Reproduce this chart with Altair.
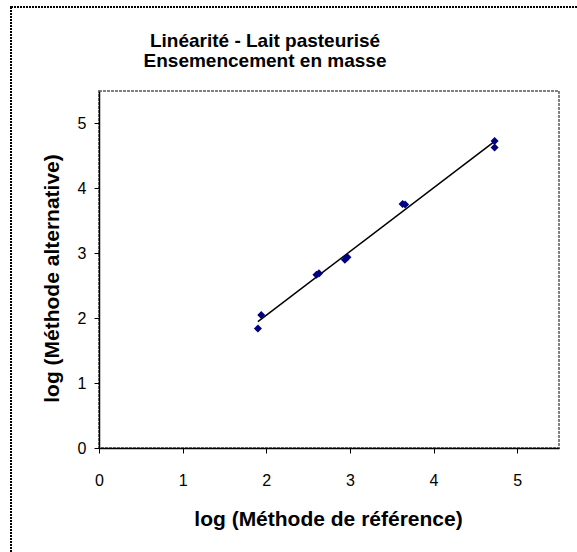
import altair as alt
import pandas as pd

title_lines = ["Linéarité - Lait pasteurisé", "Ensemencement en masse"]
ref_log = [1.90, 1.94, 2.60, 2.63, 2.94, 2.97, 3.63, 3.66, 4.73, 4.73]
alt_log = [1.84, 2.05, 2.67, 2.69, 2.90, 2.94, 3.76, 3.75, 4.73, 4.63]
x_ticks = [0, 1, 2, 3, 4, 5]
y_ticks = [0, 1, 2, 3, 4, 5]

df = pd.DataFrame({"ref": ref_log, "alt": alt_log})

FONT = "Liberation Sans"

xscale = alt.Scale(domain=[0, 5.5], nice=False, zero=False)
yscale = alt.Scale(domain=[0, 5.5], nice=False, zero=False)

xaxis = alt.Axis(
    title="log (Méthode de référence)", values=x_ticks, format="d", grid=False,
    tickSize=5, tickColor="black", labelPadding=19, labelFontSize=16,
    labelFont=FONT, labelColor="black", domainColor="black", domainWidth=1.5,
    titleFont=FONT, titleFontSize=21, titleFontWeight="bold", titleColor="black",
    titleX=229, titleY=77, titleBaseline="alphabetic", titleAlign="center",
    labelFlush=False,
)
yaxis = alt.Axis(
    title="log (Méthode alternative)", values=y_ticks, format="d", grid=False,
    tickSize=5, tickColor="black", labelPadding=8, labelFontSize=16,
    labelFont=FONT, labelColor="black", domainColor="black", domainWidth=1.5,
    titleFont=FONT, titleFontSize=21, titleFontWeight="bold", titleColor="black",
    titleX=-41, titleY=187, titleBaseline="alphabetic", titleAlign="center",
    titleAngle=270, labelFlush=False,
)

base = alt.Chart(df)

frame = base.mark_rect(
    fill=None, stroke="black", strokeWidth=2, strokeDash=[2, 1], clip=False
).encode(
    x=alt.value(-88), x2=alt.value(600), y=alt.value(-84), y2=alt.value(600)
).transform_filter("datum.ref == 1.90")

title_df = pd.DataFrame({"t": title_lines, "i": list(range(len(title_lines)))})
title_style = dict(font=FONT, fontSize=19, fontWeight="bold", color="black",
                   align="center", baseline="alphabetic")
title1 = alt.Chart(title_df).transform_filter("datum.i == 0").mark_text(
    **title_style).encode(text="t:N", x=alt.value(166), y=alt.value(-44))
title2 = alt.Chart(title_df).transform_filter("datum.i == 1").mark_text(
    **title_style).encode(text="t:N", x=alt.value(166), y=alt.value(-24))

points = base.mark_point(
    shape="diamond", filled=True, color="#000080", size=65, opacity=1
).encode(
    x=alt.X("ref:Q", scale=xscale, axis=xaxis),
    y=alt.Y("alt:Q", scale=yscale, axis=yaxis),
)

line = base.mark_line(color="black", strokeWidth=1.5).encode(
    x=alt.X("ref:Q", scale=xscale),
    y=alt.Y("alt:Q", scale=yscale),
).transform_regression("ref", "alt")

chart = alt.layer(frame, title1, title2, line, points).properties(
    width=460,
    height=357,
    autosize=alt.AutoSizeParams(type="none"),
    padding={"left": 99, "top": 91, "right": 18, "bottom": 104},
    background="white",
).configure_view(
    stroke="#808080", strokeWidth=2, strokeDash=[3, 1]
)

chart.save("out.html", embed_options={"renderer": "svg", "actions": False})
